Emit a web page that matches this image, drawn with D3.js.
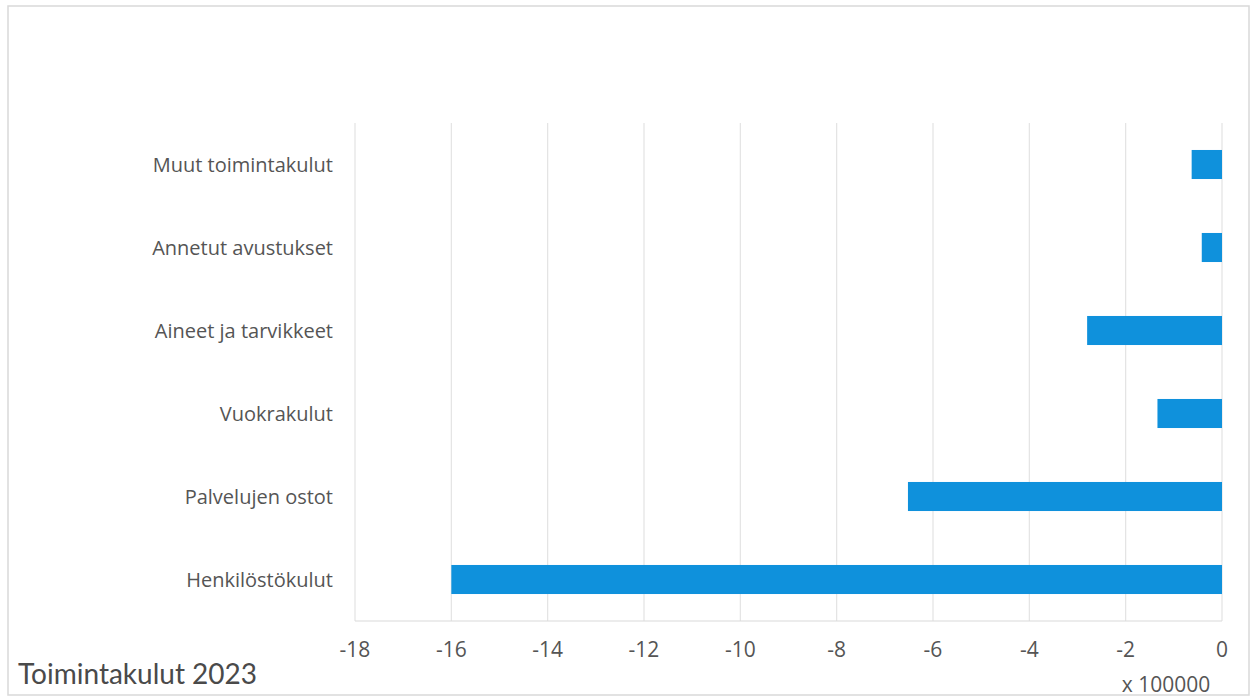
<!DOCTYPE html>
<html>
<head>
<meta charset="utf-8">
<script src="https://cdn.jsdelivr.net/npm/d3@7"></script>
<style>
	body { margin: 0; background: #fff; }
	svg text { font-family: "Open Sans", Lato, sans-serif; }
</style>
</head>
<body>
<div id="chart"></div>
<script>
// Categories from bottom to top as drawn
let categories = ["Henkilöstökulut", "Palvelujen ostot", "Vuokrakulut", "Aineet ja tarvikkeet", "Annetut avustukset", "Muut toimintakulut"];
let values = [-16.0, -6.52, -1.34, -2.8, -0.42, -0.63]; // in units of 100000
let tickValues = [-18, -16, -14, -12, -10, -8, -6, -4, -2, 0];

let W = 1257, H = 699;
let margin = { top: 123, right: 35, bottom: 78, left: 355 };
let width = W - margin.left - margin.right,
	height = H - margin.top - margin.bottom;

let root = d3.select("#chart").append("svg")
	.attr("width", W)
	.attr("height", H);

// outer frame
root.append("rect")
	.attr("x", 8).attr("y", 6)
	.attr("width", W - 16).attr("height", H - 10)
	.attr("fill", "none")
	.attr("stroke", "#d9d9d9")
	.attr("stroke-width", 1.5);

let svg = root.append("g")
	.attr("transform", "translate(" + margin.left + "," + margin.top + ")");

let x = d3.scaleLinear()
	.domain([-18, 0])
	.range([0, 867]);

// top category first
let y = d3.scaleBand()
	.domain(categories.slice().reverse())
	.range([0, height])
	.padding(0);

// gridlines
svg.append("g")
	.selectAll("line")
	.data(tickValues)
	.enter().append("line")
	.attr("x1", d => x(d)).attr("x2", d => x(d))
	.attr("y1", 0).attr("y2", height)
	.attr("stroke", "#e3e3e3")
	.attr("stroke-width", 1.2);

// bottom axis line
svg.append("line")
	.attr("x1", 0).attr("x2", x(0))
	.attr("y1", height).attr("y2", height)
	.attr("stroke", "#d9d9d9")
	.attr("stroke-width", 1.2);

// bars
let barH = y.bandwidth() * 0.35;
svg.selectAll(".bar")
	.data(categories)
	.enter().append("rect")
	.attr("class", "bar")
	.attr("x", (d, i) => x(values[i]))
	.attr("width", (d, i) => x(0) - x(values[i]))
	.attr("y", d => y(d) + (y.bandwidth() - barH) / 2)
	.attr("height", barH)
	.attr("fill", "#0f91dc");

// category labels
svg.selectAll(".cat")
	.data(categories)
	.enter().append("text")
	.attr("class", "cat")
	.attr("x", -22)
	.attr("y", d => y(d) + y.bandwidth() / 2)
	.attr("dy", "0.35em")
	.style("text-anchor", "end")
	.style("font-size", "20px")
	.style("fill", "#555")
	.text(d => d);

// x tick labels
svg.selectAll(".tick-label")
	.data(tickValues)
	.enter().append("text")
	.attr("class", "tick-label")
	.attr("x", d => x(d))
	.attr("y", height + 29)
	.attr("dy", "0.35em")
	.style("text-anchor", "middle")
	.style("font-size", "21px")
	.style("fill", "#555")
	.text(d => d);

// unit label
root.append("text")
	.attr("x", 1166)
	.attr("y", 692)
	.style("text-anchor", "middle")
	.style("font-size", "21px")
	.style("fill", "#555")
	.text("x 100000");

// chart title
root.append("text")
	.attr("x", 18)
	.attr("y", 684)
	.style("font-family", "Lato, sans-serif")
	.style("font-size", "28px")
	.style("fill", "#4a4a4a")
	.text("Toimintakulut 2023");
</script>
</body>
</html>
